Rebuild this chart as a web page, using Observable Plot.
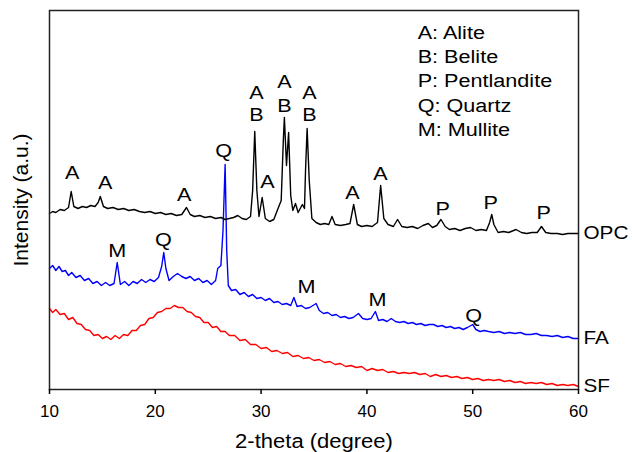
<!DOCTYPE html>
<html><head><meta charset="utf-8">
<script src="https://cdn.jsdelivr.net/npm/d3@7"></script>
<script src="https://cdn.jsdelivr.net/npm/@observablehq/plot@0.6"></script>
<style>
body{margin:0;background:#fff}
#chart svg{font-family:"Liberation Sans",Arial,sans-serif;background:#fff}
</style>
</head><body><div id="chart"></div>
<script>
// ---- data (intensity in arbitrary units) ----
const xTicks = [10, 20, 30, 40, 50, 60];

const opcAngle = [10.0,10.3,10.6,11.0,11.4,11.8,12.05,12.3,12.7,13.1,13.5,13.9,14.3,14.6,14.8,15.1,15.5,16.0,16.5,17.0,17.5,18.0,18.5,19.0,19.5,20.0,20.5,21.0,21.5,22.0,22.5,22.95,23.3,23.7,24.2,24.7,25.2,25.7,26.2,26.6,27.0,27.4,27.8,28.2,28.6,29.0,29.2,29.4,29.6,29.8,30.1,30.4,30.8,31.2,31.6,31.9,32.1,32.2,32.4,32.6,32.8,33.0,33.25,33.5,33.9,34.1,34.2,34.35,34.55,34.8,35.2,35.6,36.0,36.4,36.7,37.0,37.5,38.0,38.4,38.75,39.1,39.5,40.0,40.5,41.0,41.3,41.6,42.0,42.5,42.9,43.3,43.8,44.3,44.8,45.3,45.8,46.2,46.6,47.0,47.4,47.8,48.3,48.8,49.3,49.8,50.3,50.8,51.3,51.6,51.8,52.0,52.4,52.9,53.4,54.1,54.6,55.1,55.6,56.1,56.5,56.9,57.4,58.0,58.5,59.0,59.5,60.0];
const opcIntensity = [176,178,177,180,179,182,198,183,181,183,182,184,183,187,193,183,181,182,180,181,179,180,178,177,178,176,177,175,176,174,175,182,175,173,174,172,173,171,172,170,171,172,174,171,170,173,199,258,199,173,192,171,168,170,181,189,249,272,224,257,194,179,186,177,185,181,219,261,209,171,167,165,166,165,173,165,164,165,166,185,165,163,164,163,167,204,171,165,163,170,163,162,163,161,164,166,162,164,170,163,160,161,159,161,162,159,160,159,167,175,165,157,158,157,160,157,156,157,157,163,157,156,156,155,156,156,156];

const faAngle = [10.0,10.3,10.6,10.9,11.2,11.5,11.8,12.1,12.5,12.9,13.3,13.7,14.1,14.5,14.9,15.3,15.7,16.1,16.4,16.7,17.1,17.5,17.9,18.3,18.7,19.1,19.5,19.9,20.3,20.6,20.8,21.0,21.3,21.7,22.1,22.5,22.9,23.3,23.7,24.1,24.5,24.9,25.3,25.7,25.9,26.2,26.4,26.6,26.75,26.9,27.2,27.6,28.0,28.4,28.8,29.2,29.6,30.0,30.4,30.8,31.2,31.6,32.0,32.4,32.8,33.1,33.4,33.8,34.2,34.6,35.2,35.5,35.9,36.3,36.7,37.1,37.5,37.9,38.3,38.7,39.2,39.6,40.0,40.4,40.8,41.1,41.5,41.9,42.3,42.7,43.1,43.5,43.9,44.3,44.7,45.1,45.5,45.9,46.3,46.7,47.1,47.5,47.9,48.3,48.7,49.1,49.5,50.0,50.3,50.7,51.1,51.5,52.0,52.5,53.0,53.5,54.0,54.5,55.0,55.5,56.0,56.5,57.0,57.5,58.0,58.5,59.0,59.5,60.0];
const faIntensity = [121,124,119,123,118,119,114,117,112,114,109,111,106,108,104,107,104,106,127,105,108,104,108,106,110,107,110,108,112,123,137,121,109,113,116,113,111,113,109,111,107,109,105,109,121,124,159,225,139,104,99,100,95,97,93,95,91,92,89,91,87,88,85,86,84,92,83,84,81,82,86,79,76,77,74,75,72,73,71,72,76,71,70,71,78,69,70,68,71,68,67,68,66,67,65,66,64,65,65,63,64,62,63,61,62,60,62,65,60,58,59,58,57,58,56,57,56,57,55,55,56,54,54,53,54,52,53,51,51];

const sfAngle = [10.0,10.3,10.6,11.0,11.4,11.8,12.2,12.6,13.0,13.4,13.8,14.2,14.6,15.0,15.4,15.8,16.2,16.6,17.0,17.4,17.8,18.2,18.6,19.0,19.4,19.8,20.2,20.6,21.0,21.4,21.8,22.2,22.6,23.0,23.4,23.8,24.2,24.6,25.0,25.4,25.8,26.2,26.6,27.0,27.5,28.0,28.5,29.0,29.5,30.0,30.5,31.0,31.5,32.0,32.5,33.0,33.5,34.0,34.5,35.0,35.5,36.0,36.5,37.0,37.5,38.0,38.5,39.0,39.5,40.0,40.5,41.0,41.5,42.0,42.5,43.0,43.5,44.0,44.5,45.0,45.5,46.0,46.5,47.0,47.5,48.0,48.5,49.0,49.5,50.0,50.5,51.0,51.5,52.0,52.5,53.0,53.5,54.0,54.5,55.0,55.5,56.0,56.5,57.0,57.5,58.0,58.5,59.0,59.5,60.0];
const sfIntensity = [81,77,80,75,76,70,72,66,65,60,59,54,55,51,53,50,54,51,55,54,59,59,64,65,71,72,77,78,81,81,84,82,82,78,77,73,72,67,67,62,63,58,58,54,54,49,50,45,45,41,42,38,39,36,37,33,34,31,32,29,30,27,28,25,26,23,24,22,23,19,21,19,20,17,18,16,17,16,17,15,16,13,15,13,14,12,13,11,12,10,11,9,10,9,10,8,9,7,8,6,7,6,7,5,6,4,5,4,5,3];

const seriesNames = ["OPC", "FA", "SF"];
const seriesColors = ["#000000", "#0000ff", "#ff0000"];

const peakText = ["A","A","A","A","B","A","A","B","A","B","Q","A","A","P","P","P","M","Q","M","M","Q"];
const peakAngle = [12.15,15.27,22.74,29.56,29.56,30.6,32.2,32.2,34.57,34.57,26.45,38.63,41.28,47.16,51.7,56.7,16.41,20.76,34.29,41.0,50.08];
const peakIntensity = [216,206,194,296,274,207,307,283,296,274,238,196,215,180,186,176,138,149,102,89,73];

const legendLines = ["A: Alite","B: Belite","P: Pentlandite","Q: Quartz","M: Mullite"];
const legendAngle = 44.8;
const legendIntensity = [356,332,308,283,259];

const xLabel = "2-theta (degree)";
const yLabel = "Intensity (a.u.)";

// ---- build tables ----
const toRows = (a, v, s) => a.map((x, i) => ({angle: x, intensity: v[i], series: s}));
const rows = [
  ...toRows(sfAngle, sfIntensity, "SF"),
  ...toRows(faAngle, faIntensity, "FA"),
  ...toRows(opcAngle, opcIntensity, "OPC")
];
const ends = seriesNames.map(s => {
  const r = rows.filter(d => d.series === s);
  return r[r.length - 1];
});
const peaks = peakText.map((t, i) => ({t, angle: peakAngle[i], intensity: peakIntensity[i]}));
const legend = legendLines.map((t, i) => ({t, angle: legendAngle, intensity: legendIntensity[i]}));

const chart = Plot.plot({
  width: 632,
  height: 452,
  marginLeft: 49,
  marginRight: 54,
  marginTop: 10,
  marginBottom: 63,
  style: {fontFamily: "'Liberation Sans', Arial, sans-serif", background: "#fff", color: "#000"},
  x: {domain: [10, 60]},
  y: {domain: [0, 379], axis: null},
  color: {domain: seriesNames, range: seriesColors},
  marks: [
    Plot.line(rows, {x: "angle", y: "intensity", z: "series", stroke: "series", strokeWidth: 1.4}),
    Plot.frame({stroke: "#222", strokeWidth: 1.5}),
    Plot.axisX({ticks: xTicks, tickSize: 5, tickPadding: 10, fontSize: 17, label: null, strokeWidth: 1.5}),
    Plot.text(peaks, {x: "angle", y: "intensity", text: "t", fontSize: 18, fill: "#000"}),
    Plot.text(legend, {x: "angle", y: "intensity", text: "t", textAnchor: "start", fontSize: 18, fill: "#000"}),
    Plot.text(ends, {x: "angle", y: "intensity", text: "series", textAnchor: "start", dx: 5, fontSize: 18, fill: "#000"}),
    Plot.text([xLabel], {frameAnchor: "bottom", lineAnchor: "middle", textAnchor: "middle", dy: 52, fontSize: 20, fill: "#000"}),
    Plot.text([yLabel], {frameAnchor: "left", lineAnchor: "middle", textAnchor: "middle", rotate: -90, dx: -28, fontSize: 20, fill: "#000"})
  ]
});
document.getElementById("chart").appendChild(chart);

// the reference lettering is slightly wide: stretch glyphs horizontally
const stretch = new Map();
peakText.forEach(t => stretch.set(t, 1.2));
legendLines.forEach(t => stretch.set(t, 1.2));
seriesNames.forEach(t => stretch.set(t, 1.15));
stretch.set(xLabel, 1.1);
stretch.set(yLabel, 1.05);
chart.querySelectorAll("text").forEach(el => {
  const f = stretch.get(el.textContent);
  if (f && el.getComputedTextLength) {
    const L = el.getComputedTextLength();
    if (L > 0) {
      el.setAttribute("textLength", (L * f).toFixed(1));
      el.setAttribute("lengthAdjust", "spacingAndGlyphs");
    }
  }
});
</script></body></html>
